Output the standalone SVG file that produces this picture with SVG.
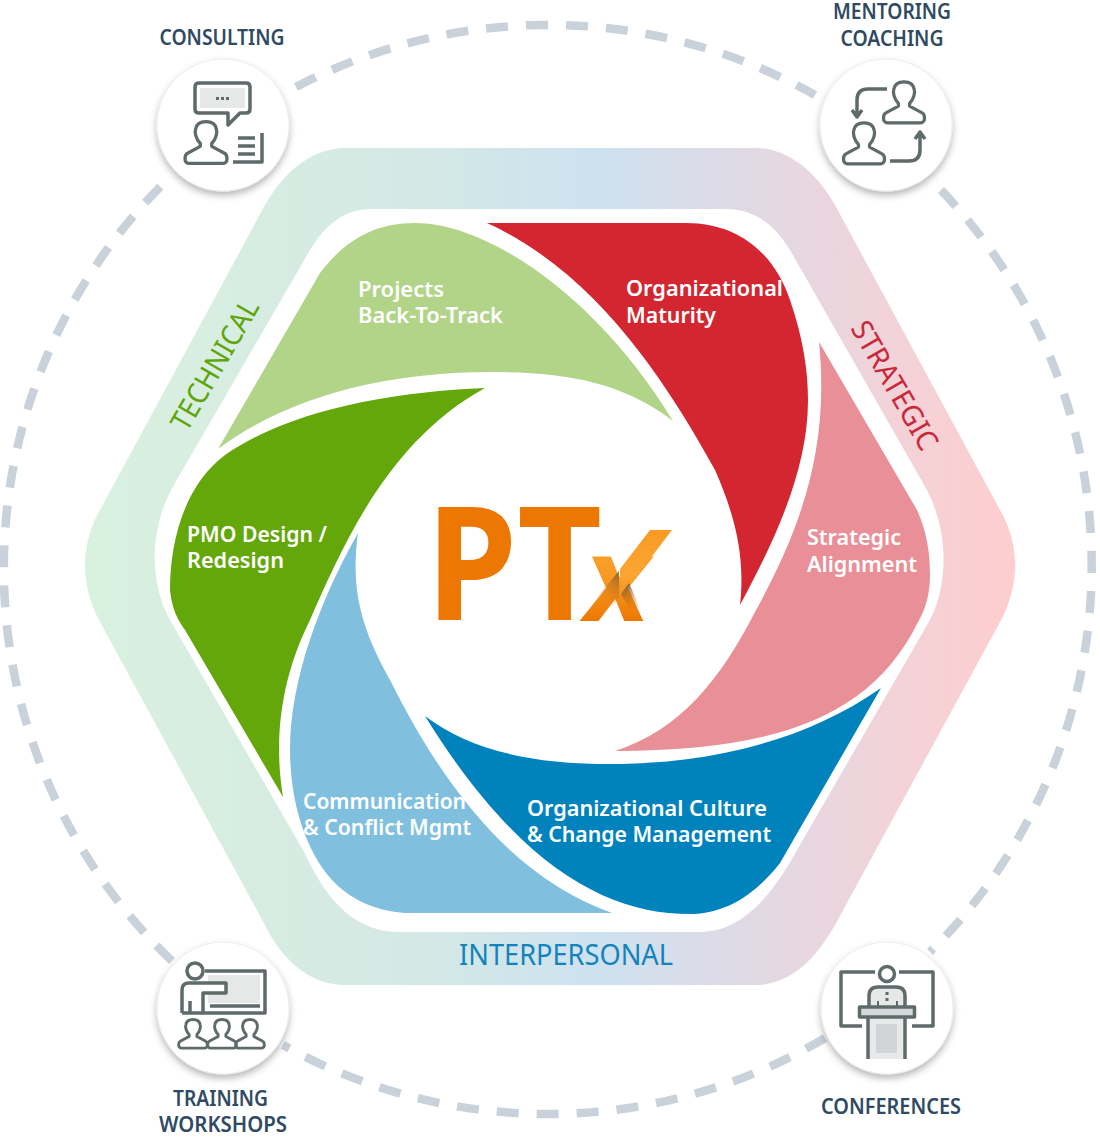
<svg xmlns="http://www.w3.org/2000/svg" width="1100" height="1138" viewBox="0 0 1100 1138">
<style>
.lab{font-family:"Noto Sans","Liberation Sans",sans-serif;font-weight:600;font-size:21px;fill:#2f4a63;text-anchor:middle}
.pet{font-family:"Noto Sans","Liberation Sans",sans-serif;font-weight:600;font-size:22px;fill:#fff}
.band{font-family:"Noto Sans","Liberation Sans",sans-serif;font-size:29px}
.ring{fill:none;stroke:#c9d2da;stroke-width:8.500;stroke-dasharray:22 18}
.disc{fill:#fff;stroke:#ececec;stroke-width:1;filter:url(#sh)}
.ic{fill:none;stroke:#5f6b6b;stroke-width:3.500;stroke-linejoin:round}
.gr{fill:#e6e8e8;stroke:none}
</style>
<defs>
<filter id="sh" x="-20%" y="-20%" width="140%" height="140%"><feDropShadow dx="0" dy="4" stdDeviation="3.5" flood-color="#000" flood-opacity=".28"/></filter>
<linearGradient id="bandG" gradientUnits="userSpaceOnUse" x1="85" y1="0" x2="1016" y2="0">
<stop offset="0" stop-color="#d9f1df"/><stop offset=".34" stop-color="#d4e9e4"/><stop offset=".55" stop-color="#cde2f0"/><stop offset=".72" stop-color="#e1d9e4"/><stop offset=".86" stop-color="#f1d3d9"/><stop offset="1" stop-color="#ffcdcd"/>
</linearGradient>
<linearGradient id="xG" gradientUnits="userSpaceOnUse" x1="0" y1="530" x2="0" y2="621"><stop offset="0" stop-color="#f99a24"/><stop offset=".5" stop-color="#fba632"/><stop offset="1" stop-color="#ec7703"/></linearGradient>
<linearGradient id="xT" gradientUnits="userSpaceOnUse" x1="0" y1="-65" x2="0" y2="0"><stop offset="0" stop-color="#f99f28"/><stop offset=".45" stop-color="#f7971f"/><stop offset="1" stop-color="#ec7703"/></linearGradient>
<linearGradient id="shadeA" gradientUnits="userSpaceOnUse" x1="619" y1="572" x2="598" y2="600"><stop offset="0" stop-color="#7d5a30" stop-opacity=".85"/><stop offset="1" stop-color="#ec7703" stop-opacity="0"/></linearGradient>
<linearGradient id="shadeB" gradientUnits="userSpaceOnUse" x1="624" y1="586" x2="638" y2="610"><stop offset="0" stop-color="#7d5a30" stop-opacity=".85"/><stop offset="1" stop-color="#ec7703" stop-opacity="0"/></linearGradient>
<path id="person" d="M-6,10C-11,5-12,-2-11,-5C-10,-11-5,-13 0,-13C5,-13 10,-11 11,-5C12,-2 11,5 6,10L6,13L19,20C21,21 22,23 22,25L22,27C22,29 20,31 18,31L-18,31C-20,31-22,29-22,27L-22,25C-22,23-21,21-19,20L-6,13Z"/>
</defs>
<rect width="1100" height="1138" fill="#fff"/>
<g id="connectors">
<path class="ring" d="M296,87A543,543 0 0 1 815,95"/>
<path class="ring" d="M941,190A543,543 0 0 1 930,952"/>
<path class="ring" d="M825,1038A543,543 0 0 1 283,1045"/>
<path class="ring" d="M172,961A543,543 0 0 1 165,182"/>
</g>
<g id="band">
<path fill="url(#bandG)" d="M345,148L755,148C790,148 818,175 835,205L1000,510C1020,545 1020,585 1000,622L835,925C815,960 790,985 755,985L345,985C310,985 282,960 265,925L100,622C80,585 80,545 100,510L265,205C282,175 310,148 345,148Z"/>
<path fill="#fff" d="M370,209L725,209C755,209 775,225 790,250L923,483C948,525 950,580 930,620L797,850C775,890 745,932 700,932L400,932C345,932 320,885 303,850L170,620C148,580 150,525 175,483L310,250C325,225 345,209 370,209Z"/>
<text class="band" fill="#5fa50a" transform="translate(187,433) rotate(-60)" textLength="146" lengthAdjust="spacingAndGlyphs">TECHNICAL</text>
<text class="band" fill="#c8283a" transform="translate(850,328) rotate(60)" textLength="144" lengthAdjust="spacingAndGlyphs">STRATEGIC</text>
<text class="band" fill="#1583bb" x="459" y="965" textLength="214" lengthAdjust="spacingAndGlyphs">INTERPERSONAL</text>
</g>
<g id="node-projects">
<path fill="#b2d488" d="M218,449L320,273C345,240 375,223 415,223C490,223 600,300 673,421C620,380 560,372 490,372C390,372 290,395 218,449Z"/>
<text class="pet" x="358" y="297" textLength="86" lengthAdjust="spacingAndGlyphs">Projects</text>
<text class="pet" x="358" y="323" textLength="145" lengthAdjust="spacingAndGlyphs">Back-To-Track</text>
</g>
<g id="node-maturity">
<path fill="#d32630" d="M487,223L686,223C740,223 775,255 790,300C803,338 808,370 808,400C808,470 775,540 740,605C745,560 737,520 715,470C660,370 590,270 487,223Z"/>
<text class="pet" x="626" y="296" textLength="157" lengthAdjust="spacingAndGlyphs">Organizational</text>
<text class="pet" x="626" y="323" textLength="90" lengthAdjust="spacingAndGlyphs">Maturity</text>
</g>
<g id="node-strategic">
<path fill="#e88f97" d="M819,342L917,510C926,530 930,550 930,575C930,595 925,610 918,622C870,720 770,751 615,751C680,730 720,680 755,612C800,530 830,450 819,342Z"/>
<text class="pet" x="807" y="545" textLength="94" lengthAdjust="spacingAndGlyphs">Strategic</text>
<text class="pet" x="807" y="572" textLength="110" lengthAdjust="spacingAndGlyphs">Alignment</text>
</g>
<g id="node-culture">
<path fill="#0083bd" d="M881,688L780,863C755,895 725,914 690,914C610,914 520,870 425,716C470,750 530,764 610,764C700,764 800,745 881,688Z"/>
<text class="pet" x="527" y="816" textLength="240" lengthAdjust="spacingAndGlyphs">Organizational Culture</text>
<text class="pet" x="527" y="842" textLength="244" lengthAdjust="spacingAndGlyphs">&amp; Change Management</text>
</g>
<g id="node-communication">
<path fill="#80bfdd" d="M358,533C320,600 290,680 290,750C290,800 305,855 338,886C358,904 385,913 410,913L612,913C520,880 450,800 390,680C362,630 350,590 358,533Z"/>
<text class="pet" x="303" y="809" textLength="163" lengthAdjust="spacingAndGlyphs">Communication</text>
<text class="pet" x="303" y="835" textLength="168" lengthAdjust="spacingAndGlyphs">&amp; Conflict Mgmt</text>
</g>
<g id="node-pmo">
<path fill="#64a70b" d="M485,388C390,392 290,410 225,455C185,485 170,540 170,590C172,610 178,620 185,630L283,797C272,730 285,670 310,620C345,540 390,440 485,388Z"/>
<text class="pet" x="187" y="542" textLength="140" lengthAdjust="spacingAndGlyphs">PMO Design /</text>
<text class="pet" x="187" y="568" textLength="97" lengthAdjust="spacingAndGlyphs">Redesign</text>
</g>
<g id="node-ptx">
<text x="426" y="620" font-family="'Noto Sans','Liberation Sans',sans-serif" font-weight="700" font-size="158" fill="#ec7703" textLength="176" lengthAdjust="spacingAndGlyphs">PT</text>
<text transform="translate(579,621) skewX(-10) scale(.95,1)" font-family="'Noto Sans','Liberation Sans',sans-serif" font-weight="700" font-size="118" fill="url(#xT)">x</text>
<polygon fill="url(#xG)" points="650,530 672,530 634,580 620,597 620,569"/>
<polygon fill="url(#shadeA)" points="619,571 619,597 604,620 581,620 596,598"/>
<polygon fill="url(#shadeB)" points="621,594 629,583 640,608 630,610"/>
</g>
<g id="node-consulting">
<text class="lab" x="222" y="45" textLength="125" lengthAdjust="spacingAndGlyphs">CONSULTING</text>
<circle class="disc" cx="223" cy="125" r="66"/>
<rect class="gr" x="200" y="88" width="45" height="20"/>
<path class="ic" d="M199,83L246,83Q250,83 250,87L250,109Q250,113 246,113L240,113L228,125L228,113L199,113Q195,113 195,109L195,87Q195,83 199,83Z"/>
<path fill="#5f6b6b" d="M216,97h3v3h-3zM221,97h3v3h-3zM226,97h3v3h-3z"/>
<use href="#person" class="ic" transform="translate(206,134) scale(.95)"/>
<path class="ic" d="M238,138H255M238,146H255M238,154H255M233,162H262V133"/>
</g>
<g id="node-mentoring">
<text class="lab" x="892" y="19" textLength="118" lengthAdjust="spacingAndGlyphs">MENTORING</text>
<text class="lab" x="892" y="46" textLength="103" lengthAdjust="spacingAndGlyphs">COACHING</text>
<circle class="disc" cx="886" cy="125" r="66"/>
<use href="#person" class="ic" transform="translate(904,94) scale(.93)"/>
<use href="#person" class="ic" transform="translate(864,135) scale(.93)"/>
<path class="ic" d="M887,89H868Q857,89 857,100V116M852,110L857,117L862,110M890,161H909Q920,161 920,150V133M915,139L920,132L925,139"/>
</g>
<g id="node-training">
<circle class="disc" cx="223" cy="1008" r="66"/>
<rect class="gr" x="208" y="975" width="52" height="28"/>
<circle class="ic" cx="195" cy="971" r="8"/>
<path class="ic" d="M182,1013V990Q182,983 189,983H226V993H203V1013H190V1001M190,1013H182" style="fill:#fff"/>
<path class="ic" d="M205,971H265V1013H203M210,1006H260"/>
<use href="#person" class="ic" transform="translate(193,1028) scale(.65)" style="stroke-width:4.500"/>
<use href="#person" class="ic" transform="translate(222,1028) scale(.65)" style="stroke-width:4.500"/>
<use href="#person" class="ic" transform="translate(250,1028) scale(.65)" style="stroke-width:4.500"/>
<text class="lab" x="220.500" y="1106" textLength="95" lengthAdjust="spacingAndGlyphs">TRAINING</text>
<text class="lab" x="223" y="1132" textLength="128" lengthAdjust="spacingAndGlyphs">WORKSHOPS</text>
</g>
<g id="node-conferences">
<circle class="disc" cx="887" cy="1008" r="66"/>
<rect x="868" y="1017" width="37" height="42" fill="#e8eaea"/>
<rect x="876" y="1024" width="21" height="29" fill="#d2d5d7"/>
<path class="ic" d="M875,972H841V1026H862M899,972H933V1026H912"/>
<circle class="ic" cx="887" cy="974" r="7.500"/>
<path class="ic" d="M869,1006V996Q869,987 878,987H896Q905,987 905,996V1006" style="fill:#e6e8e8"/>
<path fill="#5f6b6b" d="M885.500,992h3v3h-3zM885.500,998h3v3h-3zM877,1001h2v5h-2zM896,1001h2v5h-2z"/>
<rect class="ic" x="859.500" y="1007" width="55" height="10" style="fill:#d5d8d8"/>
<path class="ic" d="M868,1018V1059M905,1018V1059"/>
<text class="lab" x="891" y="1114" textLength="140" lengthAdjust="spacingAndGlyphs">CONFERENCES</text>
</g>
</svg>
